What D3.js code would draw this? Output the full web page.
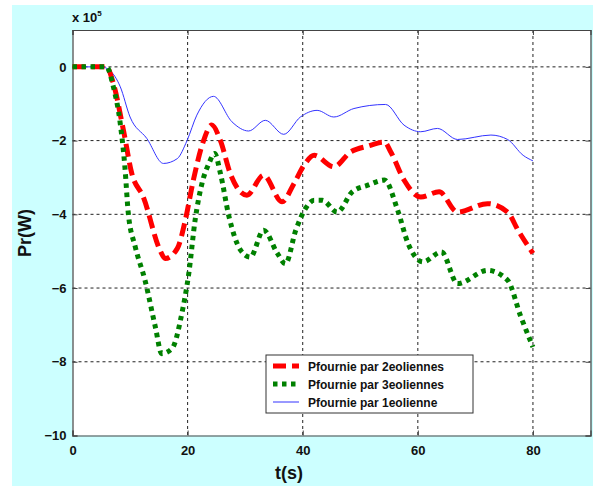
<!DOCTYPE html>
<html>
<head>
<meta charset="utf-8">
<script src="https://cdn.jsdelivr.net/npm/d3@7"></script>
<style>
  html, body { margin: 0; padding: 0; background: #ffffff; }
  svg { display: block; }
  text { font-family: Arial, "Liberation Sans", sans-serif; font-weight: bold; }
</style>
</head>
<body>
<script>
// Time axis (s) and power sampled for each configuration (units of 1e5 W)
const t1 = [0, 5, 6.5, 8.3, 10, 12.9, 15.8, 18.2, 19.9, 21.6, 24.5, 27.7, 30.6, 33.5, 36.7, 39.6, 42.5, 45.4, 48.9, 54.4, 57.6, 60.5, 63.4, 66.9, 72.7, 75.6, 78.3, 80];
const p1 = [0, 0, -0.1, -0.54, -1.36, -1.94, -2.62, -2.49, -2.0, -1.31, -0.80, -1.49, -1.74, -1.45, -1.83, -1.36, -1.18, -1.36, -1.13, -1.02, -1.58, -1.76, -1.67, -1.97, -1.85, -1.97, -2.40, -2.55];

const t2 = [0, 5.9, 7.1, 8.85, 10.3, 12.3, 15.2, 16.1, 18.2, 19.6, 21.0, 22.8, 24.2, 25.7, 27.4, 30.3, 33.2, 36.4, 38.5, 40.3, 42.0, 45.4, 48.3, 51.3, 54.2, 55.3, 57.6, 60.5, 63.7, 66.9, 72.1, 75.6, 77.4, 80];
const p2 = [0, 0, -0.45, -1.72, -2.89, -3.53, -4.97, -5.2, -4.93, -4.16, -3.07, -1.99, -1.58, -2.0, -2.89, -3.48, -2.94, -3.66, -3.16, -2.65, -2.40, -2.71, -2.31, -2.15, -2.04, -2.31, -3.07, -3.53, -3.39, -3.94, -3.71, -3.94, -4.43, -5.06];

const t3 = [0, 5.9, 7.1, 8.3, 9.1, 9.7, 10.9, 12.6, 14.4, 15.5, 17.3, 19.0, 20.2, 21.3, 22.5, 23.7, 24.7, 25.7, 27.2, 29.2, 30.9, 33.2, 35.6, 37.0, 38.8, 40.5, 42.0, 43.4, 46.0, 48.6, 51.3, 54.2, 56.5, 58.3, 60.9, 64.1, 66.9, 72.1, 75.6, 77.9, 80];
const p3 = [0, 0, -0.54, -1.54, -2.71, -3.98, -4.88, -5.79, -7.06, -7.78, -7.64, -6.69, -5.61, -4.16, -3.16, -2.62, -2.35, -2.89, -4.07, -4.97, -5.16, -4.43, -5.06, -5.34, -4.43, -3.84, -3.62, -3.62, -3.94, -3.39, -3.21, -3.07, -3.89, -4.79, -5.29, -5.02, -5.88, -5.52, -5.79, -6.78, -7.60];

const xTicks = [0, 20, 40, 60, 80];
const yTicks = [0, -2, -4, -6, -8, -10];
const legendLabels = ["Pfournie par 2eoliennes", "Pfournie par 3eoliennes", "Pfournie par 1eolienne"];

const W = 593, H = 486;
const svg = d3.select("body").append("svg").attr("width", W).attr("height", H);

// Figure background
svg.append("rect").attr("x", 12).attr("y", 5).attr("width", W - 12).attr("height", H - 5).attr("fill", "#ccffff");

const x = d3.scaleLinear().domain([0, 90]).range([72.5, 590.5]);
const y = d3.scaleLinear().domain([-10, 1]).range([435.5, 30]);

// Plot area
svg.append("rect")
  .attr("x", x(0)).attr("y", y(1))
  .attr("width", x(90) - x(0)).attr("height", y(-10) - y(1))
  .attr("fill", "#ffffff");

// Dotted grid
const grid = svg.append("g").attr("stroke", "#222").attr("stroke-width", 1).attr("stroke-dasharray", "3,3");
grid.selectAll("line.gx").data(xTicks.slice(1)).join("line")
  .attr("x1", d => x(d)).attr("x2", d => x(d)).attr("y1", y(1)).attr("y2", y(-10));
grid.selectAll("line.gy").data(yTicks.slice(0, -1)).join("line")
  .attr("y1", d => y(d)).attr("y2", d => y(d)).attr("x1", x(0)).attr("x2", x(90));

// Axes
svg.append("g").attr("transform", `translate(0,${y(-10)})`)
  .call(d3.axisBottom(x).tickValues(xTicks).tickSize(-5).tickPadding(10).tickFormat(d3.format("d")));
svg.append("g").attr("transform", `translate(${x(0)},0)`)
  .call(d3.axisLeft(y).tickValues(yTicks).tickSize(-5).tickPadding(6).tickFormat(d3.format("d")));
// Top and right ticks
svg.append("g").attr("transform", `translate(0,${y(1)})`)
  .call(d3.axisTop(x).tickValues(xTicks).tickSize(-5).tickFormat(""));
svg.append("g").attr("transform", `translate(${x(90)},0)`)
  .call(d3.axisRight(y).tickValues(yTicks).tickSize(-5).tickFormat(""));
svg.selectAll(".domain").attr("stroke", "#444").attr("stroke-width", 1.2);
svg.selectAll(".tick line").attr("stroke", "#444");
svg.selectAll(".tick text").attr("font-size", 13).attr("font-weight", "bold").attr("fill", "#111")
  .attr("font-family", "Arial, 'Liberation Sans', sans-serif");

// Axis labels
svg.append("text").attr("x", 289).attr("y", 479).attr("text-anchor", "middle")
  .attr("font-size", 18).attr("fill", "#111").text("t(s)");
svg.append("text").attr("transform", "translate(31,233) rotate(-90)").attr("text-anchor", "middle")
  .attr("font-size", 18).attr("fill", "#111").text("Pr(W)");

// Exponent
const ex = svg.append("text").attr("x", 72).attr("y", 22).attr("font-size", 13).attr("fill", "#111");
ex.append("tspan").text("x 10");
ex.append("tspan").attr("dy", -6).attr("font-size", 8).text("5");

// Series
const line = d3.line().x(d => x(d[0])).y(d => y(d[1])).curve(d3.curveMonotoneX);
const series = [
  { t: t2, p: p2, color: "#ff0000", width: 5, dash: "13,6" },
  { t: t3, p: p3, color: "#008000", width: 5, dash: "4.5,4.5" },
  { t: t1, p: p1, color: "#3333ff", width: 1, dash: null }
];
// Draw order: blue, then red, then green on top
[series[2], series[0], series[1]].forEach(s => {
  svg.append("path")
    .datum(d3.zip(s.t, s.p))
    .attr("d", line)
    .attr("fill", "none")
    .attr("stroke", s.color)
    .attr("stroke-width", s.width)
    .attr("stroke-dasharray", s.dash);
});

// Legend
const lg = svg.append("g");
lg.append("rect").attr("x", 266).attr("y", 355).attr("width", 207).attr("height", 58)
  .attr("fill", "#ffffff").attr("stroke", "#333").attr("stroke-width", 1);
const rowsY = [366, 384, 402];
series.forEach((s, i) => {
  lg.append("line").attr("x1", 273).attr("x2", 299).attr("y1", rowsY[i]).attr("y2", rowsY[i])
    .attr("stroke", s.color).attr("stroke-width", s.width).attr("stroke-dasharray", s.dash);
  lg.append("text").attr("x", 308).attr("y", rowsY[i] + 4.5).attr("font-size", 12)
    .attr("fill", "#111").text(legendLabels[i]);
});
</script>
</body>
</html>
